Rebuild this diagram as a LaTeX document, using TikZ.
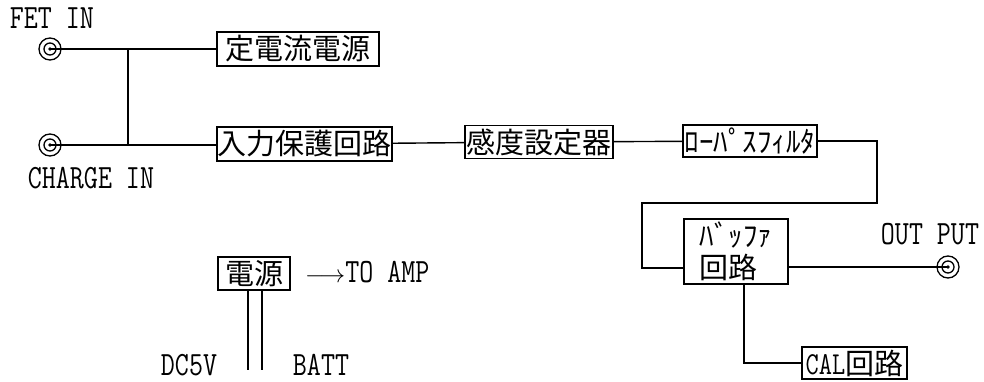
\documentclass[tikz,border=0pt]{standalone}
\usepackage{fontspec}
\setmonofont{Latin Modern Mono}[FakeStretch=0.8]
\newfontfamily\jp{Noto Sans CJK JP}
\tikzset{
  box/.style={draw, line width=1.4pt, inner sep=0pt, align=center,
    font=\jp\fontsize{29}{32}\selectfont},
  lbl/.style={inner sep=0pt, font=\ttfamily\fontsize{34}{36}\selectfont},
  wire/.style={line width=1.4pt},
  jackr/.style={draw, circle, line width=1.3pt, minimum size=22pt, inner sep=0pt},
}
\begin{document}
\begin{tikzpicture}[x=1pt,y=-1pt]
\useasboundingbox (0,0) rectangle (984,382);
% jacks
\node[jackr] (j1) at (50,49) {};
\node[jackr] (j2) at (50,145) {};
\node[jackr] (j3) at (948,267) {};
\foreach \j in {j1,j2,j3}{
  \draw[line width=1.3pt] (\j.center) circle (6pt);
  \fill (\j.center) circle (1.8pt);
}
% labels
\node[lbl] (fet) at (52,18) {FET IN};
\node[lbl] (chg) at (91,178) {CHARGE IN};
\node[lbl] (out) at (930,234) {OUT PUT};
\node[lbl] (dc) at (189,365) {DC5V};
\node[lbl] (bat) at (321,365) {BATT};
\node[lbl, anchor=west] (amp) at (305,272) {$\longrightarrow$TO AMP};
% boxes
\node[box, minimum width=162pt, minimum height=34pt] (cc) at (298,49) {定電流電源};
\node[box, minimum width=175pt, minimum height=34pt] (ip) at (304.5,144) {入力保護回路};
\node[box, minimum width=148pt, minimum height=33pt] (sens) at (539,142) {感度設定器};
\node[box, minimum width=134pt, minimum height=32pt] (lpf) at (750,141) {ﾛｰﾊﾟｽﾌｨﾙﾀ};
\node[box, minimum width=104pt, minimum height=65pt, align=left] (buf) at (736,251.5) {ﾊﾞｯﾌｧ\\回路};
\node[box, minimum width=105pt, minimum height=32pt] (cal) at (854.5,363) {{\ttfamily\fontsize{32}{32}\selectfont CAL}回路};
\node[box, minimum width=72pt, minimum height=33pt] (pw) at (254,273.5) {電源};
% coordinates
\coordinate (jx) at (128,0);
\coordinate (r1) at (877,141);
\coordinate (r2) at (877,203);
\coordinate (l1) at (642,203);
\coordinate (l2) at (642,268);
\coordinate (bs) at (744,284);
\coordinate (d1) at (248,370);
\coordinate (d2) at (262,370);
% wires
\draw[wire] (j1.center) -- (cc.west |- j1.center);
\draw[wire] (j2.center) -- (ip.west |- j2.center);
\draw[wire] (j1.center -| jx) -- (j2.center -| jx);
\draw[wire] (ip) -- (sens);
\draw[wire] (sens) -- (lpf);
\draw[wire] (lpf.east) -- (r1) -- (r2) -- (l1) -- (l2) -- (buf.west |- l2);
\draw[wire] (buf.east |- j3.center) -- (j3.center);
\draw[wire] (bs) -- (bs |- cal.west) -- (cal.west);
\draw[wire] (pw.south -| d1) -- (d1);
\draw[wire] (pw.south -| d2) -- (d2);
\end{tikzpicture}
\end{document}
